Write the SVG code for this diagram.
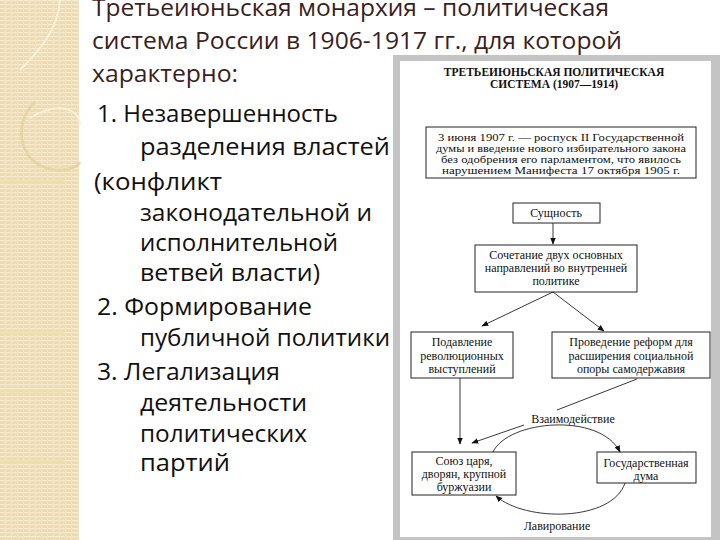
<svg xmlns="http://www.w3.org/2000/svg" width="720" height="540" viewBox="0 0 720 540">
<defs>
<pattern id="stripes" width="6" height="4" patternUnits="userSpaceOnUse">
<rect width="6" height="4" fill="#eedcb0"/>
<rect y="0" width="6" height="1.2" fill="#f6ebcf"/>
<rect x="5" width="1" height="4" fill="#f2e3bf"/>
</pattern>
<marker id="arr" viewBox="0 0 10 10" refX="9" refY="5" markerWidth="7" markerHeight="7" orient="auto" markerUnits="userSpaceOnUse">
<path d="M0,1 L10,5 L0,9 Z" fill="#111"/>
</marker>
<style>
.title{font-family:"Open Sans","DejaVu Sans",sans-serif;font-size:24.5px;fill:#3a1f1f}
.item{font-family:"Open Sans","DejaVu Sans",sans-serif;font-size:23px;fill:#111}
.dt{font-family:"Liberation Serif","Times New Roman",serif;font-size:12px;fill:#111;text-anchor:middle}
.sm{font-size:10.5px}
.hd{font-family:"Liberation Serif","Times New Roman",serif;font-size:11.5px;font-weight:bold;fill:#111;text-anchor:middle}
.box{fill:#fff;stroke:#222;stroke-width:1}
.ln{fill:none;stroke:#222;stroke-width:0.9}
</style>
</defs>
<rect width="720" height="540" fill="#fff"/>
<g id="strip">
<rect x="0" y="0" width="79" height="540" fill="url(#stripes)"/>
<rect x="0" y="180" width="64" height="4" fill="#ece0a8" opacity="0.7"/>
<rect x="0" y="330" width="64" height="4" fill="#ece0a8" opacity="0.7"/>
<rect x="0" y="390" width="64" height="4" fill="#ece0a8" opacity="0.7"/>
<rect x="0" y="460" width="64" height="4" fill="#ece0a8" opacity="0.7"/>
<path d="M60,0 C58,30 40,50 20,70" fill="none" stroke="#f8f0d8" stroke-width="2"/>
<path d="M35,102 C10,125 20,170 60,170 C70,170 78,166 80,162" fill="none" stroke="#e2d3a0" stroke-width="3" opacity="0.8"/>
<path d="M30,118 C60,100 80,110 80,125" fill="none" stroke="#f8f0d8" stroke-width="2"/>
</g>
<g id="title">
<text class="title" x="92" y="16" textLength="517" lengthAdjust="spacingAndGlyphs">Третьеиюньская монархия – политическая</text>
<text class="title" x="92" y="49" textLength="530" lengthAdjust="spacingAndGlyphs">система России в 1906-1917 гг., для которой</text>
<text class="title" x="92" y="82" textLength="146" lengthAdjust="spacingAndGlyphs">характерно:</text>
</g>
<g id="list">
<text class="item" x="97" y="122" textLength="241" lengthAdjust="spacingAndGlyphs">1. Незавершенность</text>
<text class="item" x="140" y="155" textLength="250" lengthAdjust="spacingAndGlyphs">разделения властей</text>
<text class="item" x="94" y="190" textLength="128" lengthAdjust="spacingAndGlyphs">(конфликт</text>
<text class="item" x="140" y="221" textLength="232" lengthAdjust="spacingAndGlyphs">законодательной и</text>
<text class="item" x="140" y="251" textLength="198" lengthAdjust="spacingAndGlyphs">исполнительной</text>
<text class="item" x="140" y="281" textLength="180" lengthAdjust="spacingAndGlyphs">ветвей власти)</text>
<text class="item" x="97" y="315" textLength="215" lengthAdjust="spacingAndGlyphs">2. Формирование</text>
<text class="item" x="140" y="346" textLength="250" lengthAdjust="spacingAndGlyphs">публичной политики</text>
<text class="item" x="97" y="380" textLength="183" lengthAdjust="spacingAndGlyphs">3. Легализация</text>
<text class="item" x="140" y="411" textLength="167" lengthAdjust="spacingAndGlyphs">деятельности</text>
<text class="item" x="140" y="442" textLength="167" lengthAdjust="spacingAndGlyphs">политических</text>
<text class="item" x="140" y="471" textLength="90" lengthAdjust="spacingAndGlyphs">партий</text>
</g>
<g id="frame">
<rect x="393" y="55" width="327" height="485" fill="#c4c4c4"/>
<rect x="400" y="61" width="311" height="476" fill="#fff"/>
</g>
<g id="heading">
<text class="hd" x="554" y="76">ТРЕТЬЕИЮНЬСКАЯ ПОЛИТИЧЕСКАЯ</text>
<text class="hd" x="554" y="88">СИСТЕМА (1907—1914)</text>
</g>
<g id="n-june">
<rect class="box" x="426" y="127" width="270" height="51"/>
<text class="dt sm" x="561" y="141" textLength="246" lengthAdjust="spacingAndGlyphs">3 июня 1907 г. — роспуск II Государственной</text>
<text class="dt sm" x="561" y="152" textLength="250" lengthAdjust="spacingAndGlyphs">думы и введение нового избирательного закона</text>
<text class="dt sm" x="561" y="163" textLength="240" lengthAdjust="spacingAndGlyphs">без одобрения его парламентом, что явилось</text>
<text class="dt sm" x="561" y="174" textLength="238" lengthAdjust="spacingAndGlyphs">нарушением Манифеста 17 октября 1905 г.</text>
</g>
<g id="n-essence">
<rect class="box" x="513" y="203" width="87" height="20"/>
<text class="dt" x="556" y="217">Сущность</text>
</g>
<g id="n-combo">
<rect class="box" x="475" y="245" width="162" height="47"/>
<text class="dt" x="556" y="259">Сочетание двух основных</text>
<text class="dt" x="556" y="272">направлений во внутренней</text>
<text class="dt" x="556" y="285">политике</text>
</g>
<g id="n-suppress">
<rect class="box" x="411" y="332" width="102" height="46"/>
<text class="dt" x="462" y="346">Подавление</text>
<text class="dt" x="462" y="360">революционных</text>
<text class="dt" x="462" y="373">выступлений</text>
</g>
<g id="n-reform">
<rect class="box" x="552" y="332" width="158" height="46"/>
<text class="dt" x="631" y="346">Проведение реформ для</text>
<text class="dt" x="631" y="360">расширения социальной</text>
<text class="dt" x="631" y="373">опоры самодержавия</text>
</g>
<g id="n-union">
<rect class="box" x="412" y="452" width="104" height="43"/>
<text class="dt" x="464" y="465">Союз царя,</text>
<text class="dt" x="464" y="478">дворян, крупной</text>
<text class="dt" x="464" y="491">буржуазии</text>
</g>
<g id="n-duma">
<rect class="box" x="597" y="452" width="99" height="31"/>
<text class="dt" x="646" y="467">Государственная</text>
<text class="dt" x="646" y="480">дума</text>
</g>
<g id="connectors">
<line class="ln" x1="553" y1="223" x2="553" y2="244" marker-end="url(#arr)"/>
<line class="ln" x1="553" y1="292" x2="482" y2="326" marker-end="url(#arr)"/>
<line class="ln" x1="553" y1="292" x2="604" y2="331" marker-end="url(#arr)"/>
<line class="ln" x1="460" y1="378" x2="460" y2="444" marker-end="url(#arr)"/>
<line class="ln" x1="637" y1="379" x2="557" y2="410"/>
<line class="ln" x1="524" y1="425" x2="472" y2="443" marker-end="url(#arr)"/>
<path class="ln" d="M493,452 C508,420 600,412 620,452" marker-end="url(#arr)"/>
<path class="ln" d="M625,483 C612,522 525,522 496,496" marker-end="url(#arr)"/>
<text class="dt" x="573" y="423">Взаимодействие</text>
<text class="dt" x="557" y="530">Лавирование</text>
</g>
</svg>
